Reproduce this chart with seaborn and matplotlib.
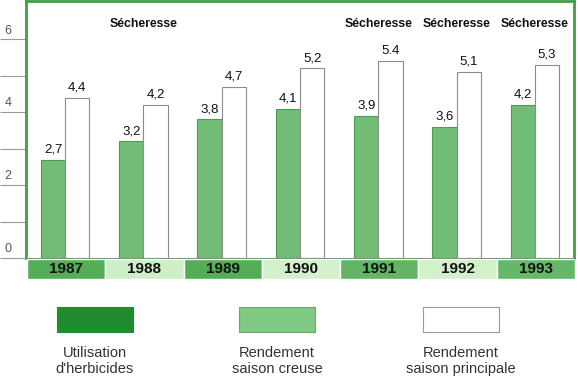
import pandas as pd
import numpy as np
import matplotlib.pyplot as plt
import matplotlib.transforms as mtransforms
from matplotlib.patches import Rectangle
import seaborn as sns

# Donnees
annees = ['1987', '1988', '1989', '1990', '1991', '1992', '1993']
rendement_creuse = [2.7, 3.2, 3.8, 4.1, 3.9, 3.6, 4.2]
rendement_principale = [4.4, 4.2, 4.7, 5.2, 5.4, 5.1, 5.3]
etiquettes_creuse = ['2,7', '3,2', '3,8', '4,1', '3,9', '3,6', '4,2']
etiquettes_principale = ['4,4', '4,2', '4,7', '5,2', '5.4', '5,1', '5,3']
secheresse = ['1988', '1991', '1992', '1993']
graduations = [0, 2, 4, 6]
legende = ["Utilisation\nd'herbicides", 'Rendement\nsaison creuse', 'Rendement\nsaison principale']

sns.set_theme(style='white')
plt.rcParams['font.family'] = ['Liberation Sans', 'DejaVu Sans']

df = pd.DataFrame({
    'Annee': annees * 2,
    'Rendement': rendement_creuse + rendement_principale,
    'Saison': ['creuse'] * len(annees) + ['principale'] * len(annees),
})

fig = plt.figure(figsize=(5.78, 3.78), dpi=100)
fig.patch.set_facecolor('white')

# Graphique principal
ax = fig.add_axes([26 / 578, 120 / 378, 548 / 578, 257 / 378])
sns.barplot(data=df, x='Annee', y='Rendement', hue='Saison',
            palette=['#72bd75', 'white'], width=0.62, saturation=1,
            errorbar=None, legend=False, ax=ax)

for cont, edge, labs in zip(ax.containers, ['#4e9c52', '#8c8c8c'],
                            [etiquettes_creuse, etiquettes_principale]):
    for bar in cont:
        bar.set_edgecolor(edge)
        bar.set_linewidth(0.8)
    ax.bar_label(cont, labels=labs, padding=3, fontsize=9.5, color='#111')

ax.set_xlim(-0.5, len(annees) - 0.5)
ax.set_ylim(0, 7.05)
ax.set_xlabel('')
ax.set_ylabel('')
ax.set_yticks(range(7))
ax.tick_params(axis='y', length=18.7, width=0.8, color='#9a9a9a',
               direction='out', labelleft=False, left=True)
ax.tick_params(axis='x', bottom=False, labelbottom=False)

for side in ['left', 'top', 'right']:
    ax.spines[side].set_color('#3f9f47')
    ax.spines[side].set_linewidth(2)
ax.spines['bottom'].set_color('#7a9a7a')
ax.spines['bottom'].set_linewidth(0.8)

trans = mtransforms.blended_transform_factory(ax.transAxes, ax.transData)
for g in graduations:
    ax.text(-0.033, g + 0.24, str(g), transform=trans, ha='center',
            va='center', fontsize=9, color='#555')

for a in secheresse:
    ax.text(annees.index(a), 6.42, 'Sécheresse', ha='center', va='center',
            fontsize=8.8, fontweight='bold', color='#111')

# Bandeau des annees
bandes = ['#55ad58', '#cdeec6', '#55ad58', '#d3f0cc', '#62b565', '#d2f0c9', '#66b869']
sax = fig.add_axes([27 / 578, 99 / 378, 548 / 578, 20 / 378])
sns.barplot(x=annees, y=[1] * len(annees), hue=annees, palette=bandes,
            width=1, saturation=1, legend=False, ax=sax)
sax.set_xlim(-0.5, len(annees) - 0.5)
sax.set_ylim(0, 1)
sax.axis('off')
for i, a in enumerate(annees):
    sax.text(i, 0.48, a, ha='center', va='center', fontsize=11,
             fontweight='bold', color='#111')

# Legende
boites = [(57, '#1f8c2e', '#1f8c2e'), (239, '#80c982', '#6aa96c'), (423, 'white', '#999999')]
for (x0, fc, ec), txt in zip(boites, legende):
    fig.patches.append(Rectangle((x0 / 578, (378 - 332) / 378), 76 / 578, 25 / 378,
                                 transform=fig.transFigure, facecolor=fc,
                                 edgecolor=ec, linewidth=0.8))
    fig.text((x0 + 38) / 578, (378 - 361) / 378, txt, ha='center', va='center',
             fontsize=10.5, color='#333', linespacing=1.25, multialignment='center')

fig.savefig('out.png', dpi=100)
